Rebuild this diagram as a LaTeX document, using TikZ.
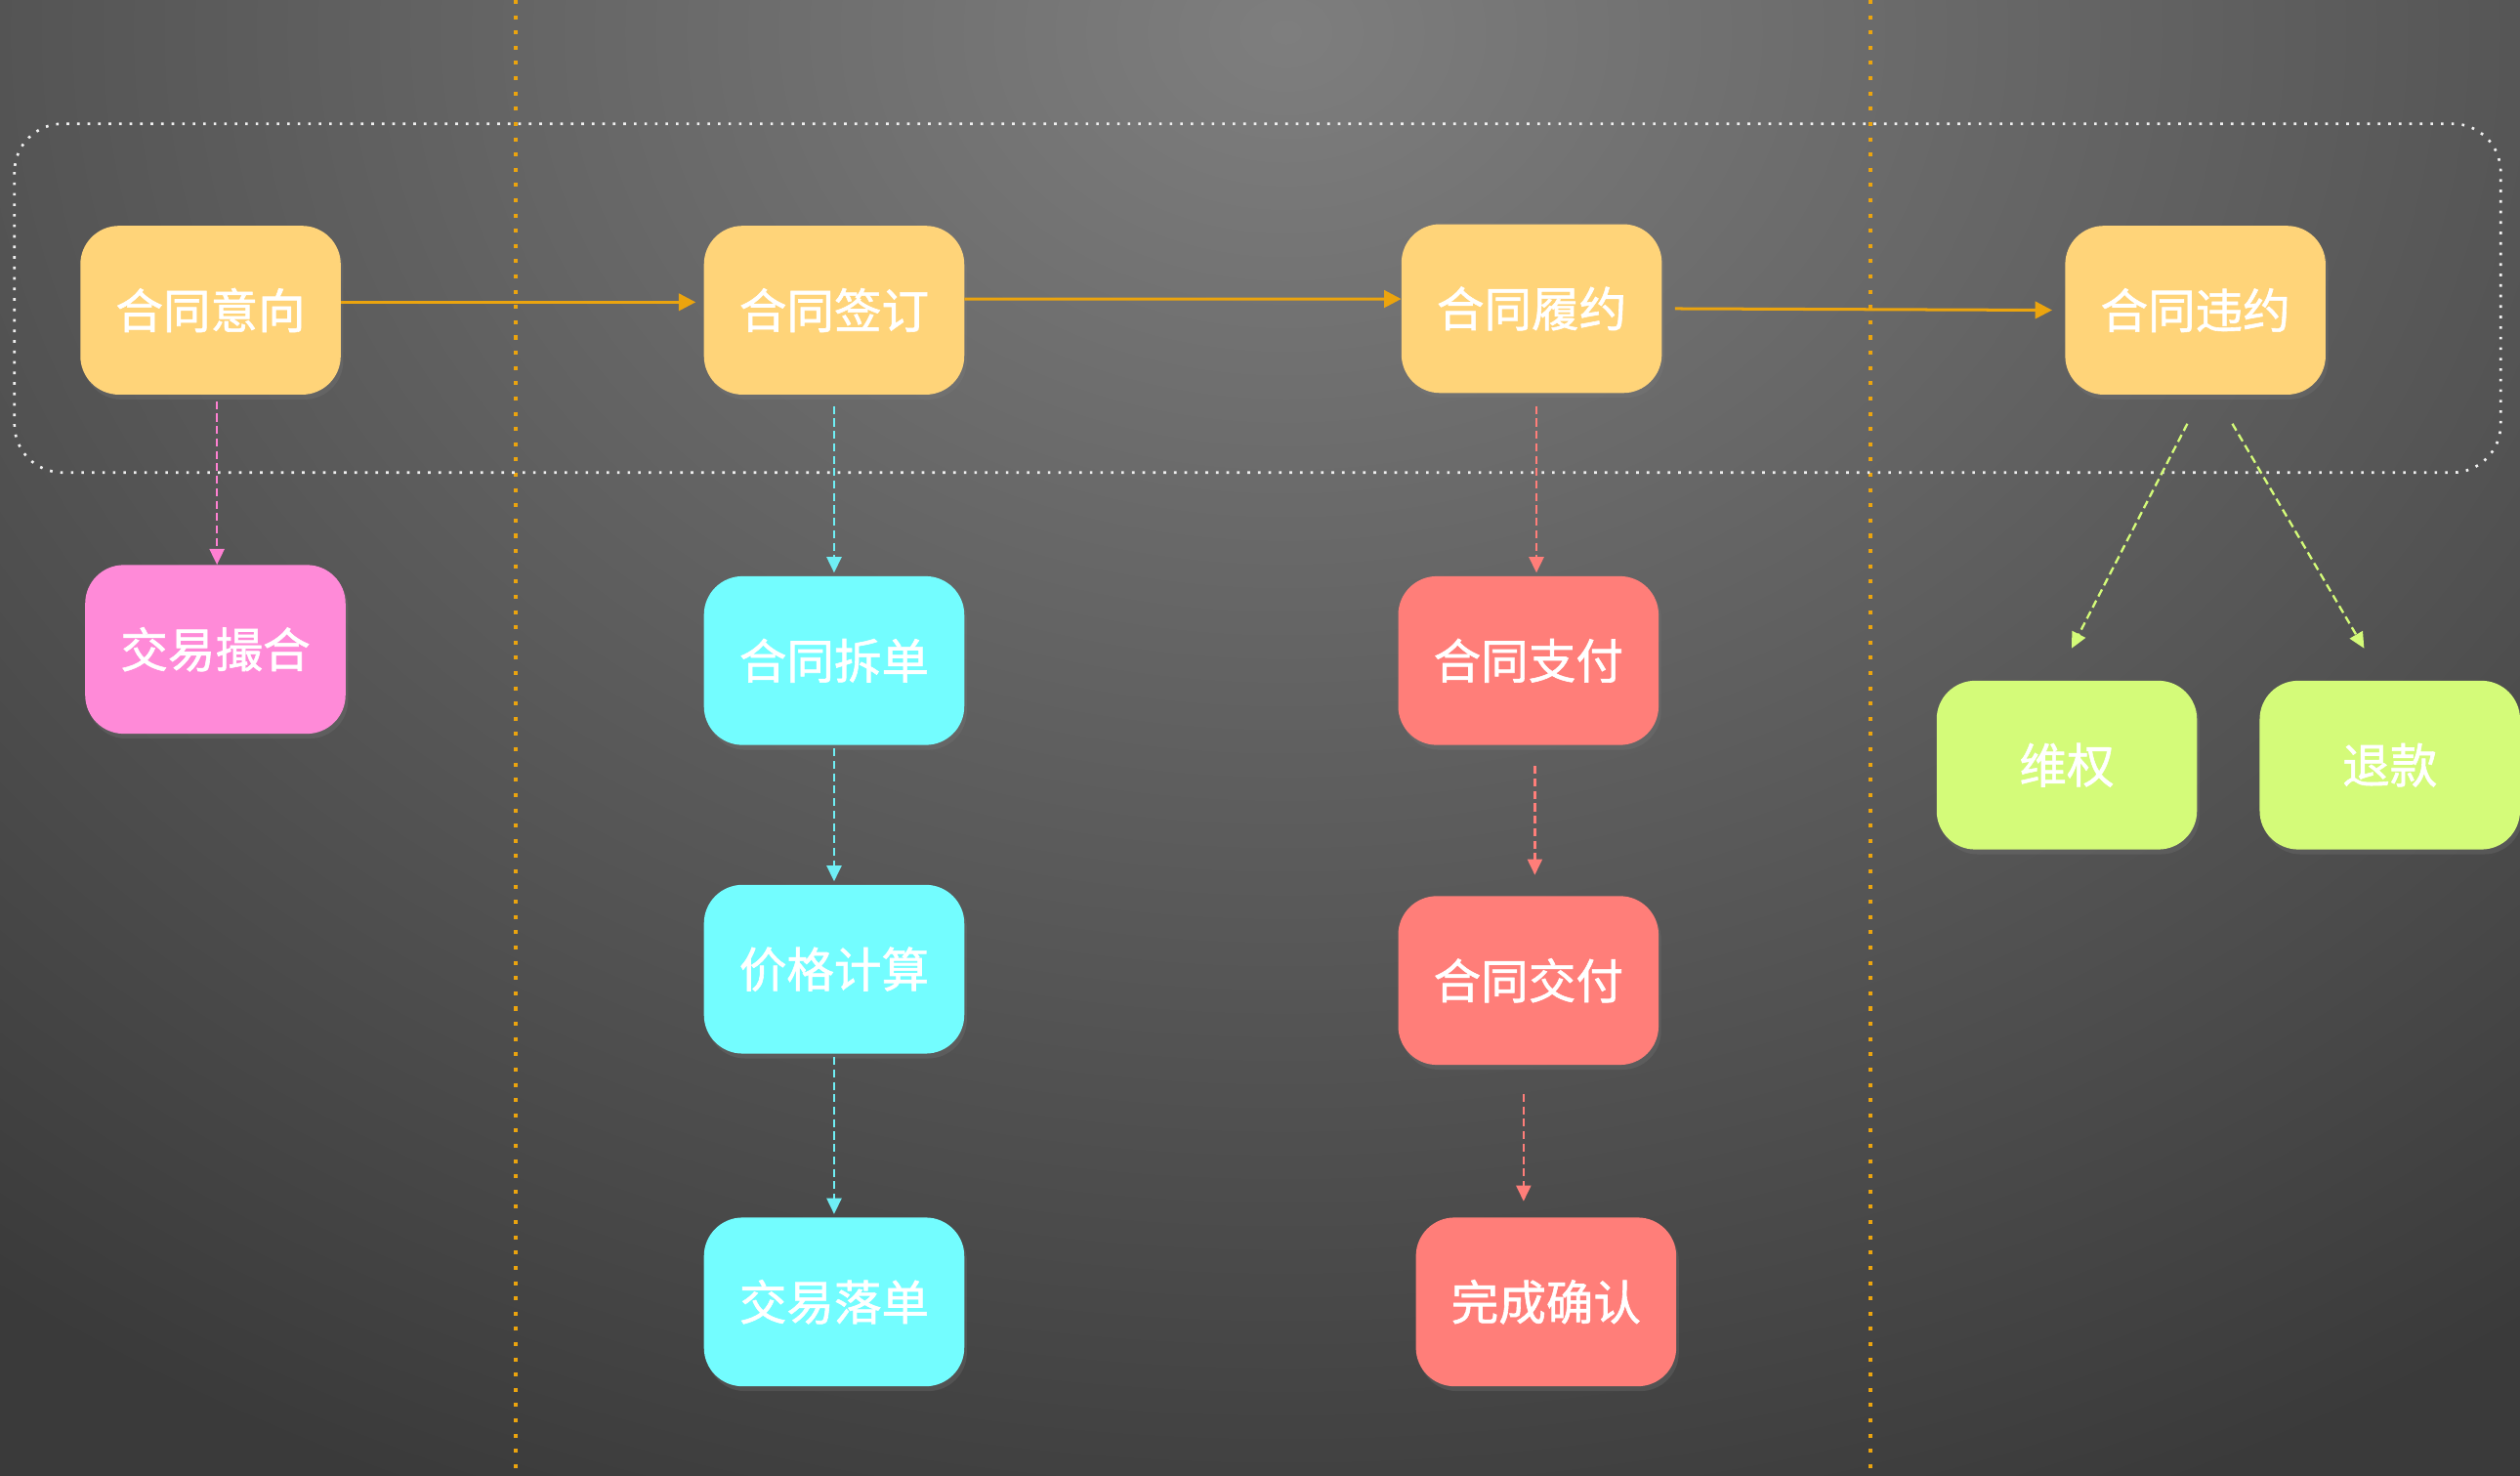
\documentclass[tikz,border=0pt]{standalone}
\usepackage{fontspec}
\newfontfamily\cjk{Noto Sans CJK SC}[FakeBold=1.2]
\usetikzlibrary{arrows.meta}
\usetikzlibrary{shadows}

\definecolor{bgouter}{HTML}{3A3A3A}
\definecolor{bginner}{HTML}{7E7E7E}
\definecolor{boxyellow}{HTML}{FFD479}
\definecolor{boxpink}{HTML}{FF8AD8}
\definecolor{boxcyan}{HTML}{73FDFF}
\definecolor{boxred}{HTML}{FF7E79}
\definecolor{boxgreen}{HTML}{D4FB79}
\definecolor{lineorange}{HTML}{EBA40E}
\definecolor{linepink}{HTML}{FF80D2}
\definecolor{linecyan}{HTML}{6FEFF5}
\definecolor{linered}{HTML}{FF7E79}
\definecolor{linegreen}{HTML}{D4FB79}

\tikzset{
  stage/.style={rounded corners=1.2cm, minimum width=8.1cm, minimum height=5.25cm,
    text=white, font=\cjk\fontsize{42}{50}\selectfont,
    drop shadow={shadow xshift=0.08cm, shadow yshift=-0.15cm, opacity=0.25}},
  flow/.style={lineorange, line width=2.6pt, -{Triangle[length=15pt,width=15pt]}},
  sub/.style={dash pattern=on 7pt off 4pt, line width=2pt, -{Triangle[length=14pt,width=13pt]}},
}

\begin{document}
\begin{tikzpicture}[x=0.05cm, y=-0.05cm]
      % background
      \fill[bgouter] (0,0) rectangle (1568,918);
      \begin{scope}
        \clip (0,0) rectangle (1568,918);
        \shade[inner color=bginner, outer color=bgouter] (800,20) ellipse (65cm and 50cm);
      \end{scope}
      \useasboundingbox (0,0) rectangle (1568,918);

      \draw[lineorange, line width=3.5pt, dash pattern=on 3.5pt off 10pt] (321,0) -- (321,918);
      \draw[lineorange, line width=3.5pt, dash pattern=on 3.5pt off 10pt] (1164,0) -- (1164,918);
      \draw[white!88!gray, line width=2.3pt, dash pattern=on 2.3pt off 7pt, rounded corners=1.5cm] (9,77) rectangle (1556,294);

      \node[stage, fill=boxyellow] (yixiang) at (131,193) {合同意向};
      \node[stage, fill=boxyellow] (qianding) at (519,193) {合同签订};
      \node[stage, fill=boxyellow] (lvyue) at (953,192) {合同履约};
      \node[stage, fill=boxyellow] (weiyue) at (1366,193) {合同违约};

      \node[stage, fill=boxpink] (cuohe) at (134,404) {交易撮合};
      \node[stage, fill=boxcyan] (chaidan) at (519,411) {合同拆单};
      \node[stage, fill=boxcyan] (jiage) at (519,603) {价格计算};
      \node[stage, fill=boxcyan] (luodan) at (519,810) {交易落单};
      \node[stage, fill=boxred] (zhifu) at (951,411) {合同支付};
      \node[stage, fill=boxred] (jiaofu) at (951,610) {合同交付};
      \node[stage, fill=boxred] (queren) at (962,810) {完成确认};
      \node[stage, fill=boxgreen] (weiquan) at (1286,476) {维权};
      \node[stage, fill=boxgreen] (tuikuan) at (1487,476) {退款};

      \draw[flow, shorten >=0.25cm] ([yshift=0.25cm]yixiang.east) -- ([yshift=0.25cm]qianding.west);
      \draw[flow] ([yshift=0.35cm]qianding.east) -- ([yshift=0.3cm]lvyue.west);
      \draw[flow, shorten <=0.4cm, shorten >=0.4cm] (lvyue.east) -- (weiyue.west);

      \draw[sub, linepink, shorten <=0.2cm] ([xshift=0.2cm]yixiang.south) -- ([xshift=0.2cm]yixiang.south |- cuohe.north);
      \draw[sub, linecyan, shorten <=0.35cm, shorten >=0.1cm] (qianding.south) -- (chaidan.north);
      \draw[sub, linecyan, shorten <=0.1cm, shorten >=0.1cm] (chaidan.south) -- (jiage.north);
      \draw[sub, linecyan, shorten <=0.1cm, shorten >=0.1cm] (jiage.south) -- (luodan.north);
      \draw[sub, linered, shorten <=0.4cm, shorten >=0.1cm] ([xshift=0.15cm]lvyue.south) -- ([xshift=0.15cm]lvyue.south |- zhifu.north);
      \draw[sub, linered, shorten <=0.65cm, shorten >=0.65cm] ([xshift=0.2cm]zhifu.south) -- ([xshift=0.2cm]jiaofu.north);
      \draw[sub, linered, shorten <=0.9cm, shorten >=0.5cm] ([xshift=-0.15cm]jiaofu.south) -- ([xshift=-0.15cm]jiaofu.south |- queren.north);
      \draw[sub, linegreen] ([xshift=-0.25cm, yshift=-0.9cm]weiyue.south) -- ([xshift=0.15cm, yshift=1cm]weiquan.north);
      \draw[sub, linegreen] ([xshift=1.15cm, yshift=-0.9cm]weiyue.south) -- ([xshift=-0.8cm, yshift=1cm]tuikuan.north);
    \end{tikzpicture}
\end{document}
